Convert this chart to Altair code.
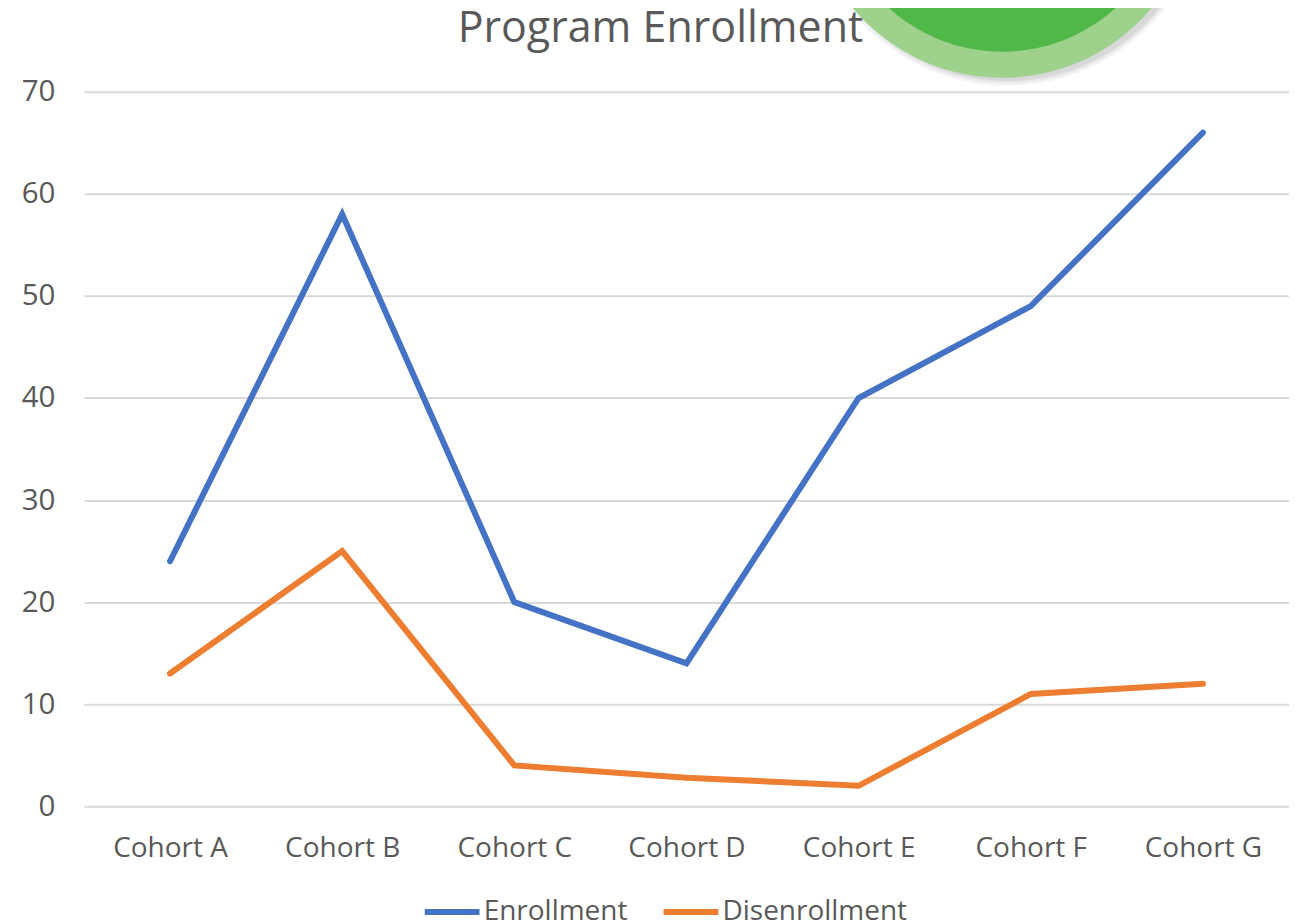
import altair as alt
import pandas as pd

cohorts = ["Cohort A", "Cohort B", "Cohort C", "Cohort D", "Cohort E", "Cohort F", "Cohort G"]
enrollment = [24, 58, 20, 14, 40, 49, 66]
disenrollment = [13, 25, 4, 2.8, 2, 11, 12]
series_names = ["Enrollment", "Disenrollment"]
series_colors = ["#4472C4", "#ED7D31"]
FONT = "Open Sans"
TEXT = "#595959"

df = pd.DataFrame({
    "cohort": cohorts * 2,
    "value": enrollment + disenrollment,
    "series": [series_names[0]] * 7 + [series_names[1]] * 7,
})

x = alt.X("cohort:N", sort=cohorts, title=None,
          scale=alt.Scale(type="point", padding=0.5),
          axis=alt.Axis(labelAngle=0, labelFont=FONT, labelFontSize=28, labelColor=TEXT,
                        labelPadding=28, domain=False, ticks=False, grid=False))
y = alt.Y("value:Q", title=None, scale=alt.Scale(domain=[0, 70], nice=False),
          axis=alt.Axis(values=[0, 10, 20, 30, 40, 50, 60, 70], labelFont=FONT, labelFontSize=29.5,
                        labelColor=TEXT, labelPadding=29, domain=False, ticks=False,
                        gridColor="#D9D9D9", gridWidth=2))

lines = alt.Chart(df).mark_line(strokeWidth=6, strokeCap="round", strokeJoin="miter").encode(
    x=x, y=y,
    color=alt.Color("series:N", sort=series_names,
                    scale=alt.Scale(domain=series_names, range=series_colors),
                    legend=alt.Legend(title=None, orient="none", direction="horizontal",
                                      legendX=338, legendY=790, symbolType="stroke",
                                      symbolSize=3000, symbolStrokeWidth=6, symbolOffset=0,
                                      labelFont=FONT, labelFontSize=28, labelColor=TEXT,
                                      labelLimit=400, labelOffset=1, columnPadding=24, padding=0)),
    order=alt.Order("series:N"),
    detail="series:N",
)

def disc(radius, color, dx=0, dy=0, opacity=1.0):
    return alt.Chart(pd.DataFrame({"d": [0]})).mark_point(
        filled=True, shape="circle", size=4 * radius ** 2, color=color, opacity=opacity
    ).encode(x=alt.value(919 + dx), y=alt.value(-209 + dy))

shadow = [disc(r, "#000000", 5, 3, 0.04) for r in (200, 198, 196, 195)]
badge = [disc(195, "#9DD18C"), disc(169, "#50B848")]

chart = alt.layer(lines, *shadow, *badge).properties(
    width=1206, height=715,
    title=alt.TitleParams("Program Enrollment", font=FONT, fontSize=43, fontWeight="normal",
                          color=TEXT, anchor="middle", dx=-26, offset=0, dy=365),
    padding={"left": 76, "top": 83.5, "right": 0, "bottom": 116},
    autosize=alt.AutoSizeParams(type="none"),
).configure_view(stroke=None)

chart.save("out.html", embed_options={"renderer": "svg", "actions": False})
